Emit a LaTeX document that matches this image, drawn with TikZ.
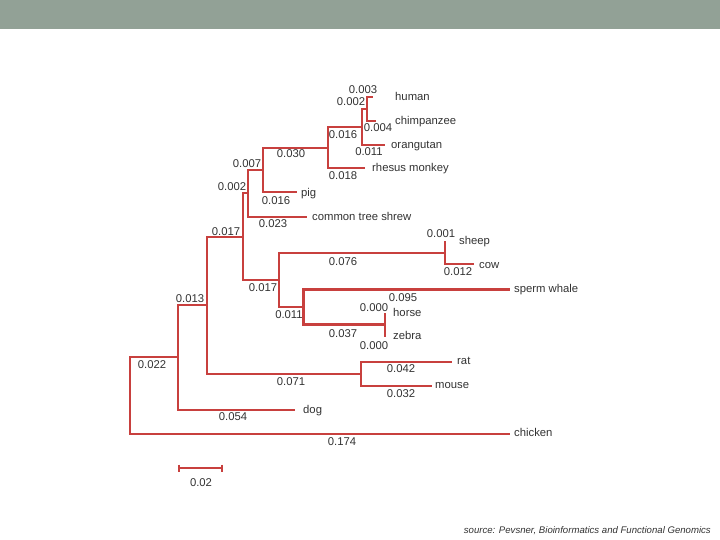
\documentclass[tikz,border=0pt]{standalone}
\usepackage{fontspec}
\setmainfont{Liberation Sans}
\definecolor{branch}{RGB}{200,64,62}
\definecolor{txt}{RGB}{50,50,50}
\definecolor{banner}{RGB}{146,161,150}
\begin{document}
\begin{tikzpicture}[x=1pt,y=-1pt,
  br/.style={draw=branch,line width=1.8pt},
  brthick/.style={draw=branch,line width=3pt},
  leaf/.style={anchor=mid west,inner sep=0pt,yshift=-1pt,text=txt,font=\fontsize{11.3}{13}\selectfont},
  num/.style={anchor=mid,inner sep=0pt,yshift=-1pt,text=txt,font=\fontsize{11.3}{13}\selectfont}]
\useasboundingbox (0,0) rectangle (720,540);
\fill[banner] (0,0) rectangle (720,29);

% leaves (branch ends)
\coordinate (human) at (373,97);
\coordinate (chimp) at (376,121);
\coordinate (orang) at (385,145);
\coordinate (rhesus) at (365,168);
\coordinate (pig) at (297,192);
\coordinate (shrew) at (307,217);
\coordinate (sheep) at (446,242);
\coordinate (cow) at (474,264);
\coordinate (whale) at (510,289);
\coordinate (horse) at (385,313);
\coordinate (zebra) at (385,337);
\coordinate (rat) at (452,362);
\coordinate (mouse) at (432,386);
\coordinate (dog) at (295,410);
\coordinate (chicken) at (510,434);

% internal nodes
\coordinate (nhc) at (367,109);
\coordinate (nhco) at (362,127);
\coordinate (npr) at (328,148);
\coordinate (npp) at (263,170);
\coordinate (nps) at (248,193);
\coordinate (nsc) at (445,253);
\coordinate (nhz) at (385,324);
\coordinate (nwhz) at (303,307);
\coordinate (ncet) at (279,280);
\coordinate (na) at (243,237);
\coordinate (nrm) at (361,374);
\coordinate (nb) at (207,305);
\coordinate (nc) at (178,357);
\coordinate (root) at (130,396);

% branches
\draw[br] (nhc) |- (human);
\draw[br] (nhc) |- (chimp);
\draw[br] (nhco) |- (nhc);
\draw[br] (nhco) |- (orang);
\draw[br] (npr) |- (nhco);
\draw[br] (npr) |- (rhesus);
\draw[br] (npp) |- (npr);
\draw[br] (npp) |- (pig);
\draw[br] (nps) |- (npp);
\draw[br] (nps) |- (shrew);
\draw[br] (na) |- (nps);
\draw[br] (nsc) |- (sheep);
\draw[br] (nsc) |- (cow);
\draw[br] (nhz) -- (horse);
\draw[br] (nhz) -- (zebra);
\draw[brthick] (nwhz) |- (whale);
\draw[brthick] (nwhz) |- (nhz);
\draw[br] (ncet) |- (nsc);
\draw[br] (ncet) |- (nwhz);
\draw[br] (na) |- (ncet);
\draw[br] (nrm) |- (rat);
\draw[br] (nrm) |- (mouse);
\draw[br] (nb) |- (na);
\draw[br] (nb) |- (nrm);
\draw[br] (nc) |- (nb);
\draw[br] (nc) |- (dog);
\draw[br] (root) |- (nc);
\draw[br] (root) |- (chicken);

% leaf names
\node[leaf] (lhuman) at (395,97) {human};
\node[leaf] (lchimp) at (395,121) {chimpanzee};
\node[leaf] (lorang) at (391,145) {orangutan};
\node[leaf] (lrhesus) at (372,168) {rhesus monkey};
\node[leaf] (lpig) at (301,193) {pig};
\node[leaf] (lshrew) at (312,217) {common tree shrew};
\node[leaf] (lsheep) at (459,241) {sheep};
\node[leaf] (lcow) at (479,265) {cow};
\node[leaf] (lwhale) at (514,289) {sperm whale};
\node[leaf] (lhorse) at (393,313) {horse};
\node[leaf] (lzebra) at (393,336) {zebra};
\node[leaf] (lrat) at (457,361) {rat};
\node[leaf] (lmouse) at (435,385) {mouse};
\node[leaf] (ldog) at (303,410) {dog};
\node[leaf] (lchicken) at (514,433) {chicken};

% branch lengths
\node[num] (b1) at (363,90) {0.003};
\node[num] (b2) at (351,102) {0.002};
\node[num] (b3) at (378,128) {0.004};
\node[num] (b4) at (343,135) {0.016};
\node[num] (b5) at (369,152) {0.011};
\node[num] (b6) at (291,154) {0.030};
\node[num] (b7) at (343,176) {0.018};
\node[num] (b8) at (247,164) {0.007};
\node[num] (b9) at (232,187) {0.002};
\node[num] (b10) at (276,201) {0.016};
\node[num] (b11) at (273,224) {0.023};
\node[num] (b12) at (226,232) {0.017};
\node[num] (b13) at (441,234) {0.001};
\node[num] (b14) at (458,272) {0.012};
\node[num] (b15) at (343,262) {0.076};
\node[num] (b16) at (263,288) {0.017};
\node[num] (b17) at (190,299) {0.013};
\node[num] (b18) at (289,315) {0.011};
\node[num] (b19) at (403,298) {0.095};
\node[num] (b20) at (374,308) {0.000};
\node[num] (b21) at (343,334) {0.037};
\node[num] (b22) at (374,346) {0.000};
\node[num] (b23) at (152,365) {0.022};
\node[num] (b24) at (401,369) {0.042};
\node[num] (b25) at (291,382) {0.071};
\node[num] (b26) at (401,394) {0.032};
\node[num] (b27) at (233,417) {0.054};
\node[num] (b28) at (342,442) {0.174};

% scale bar
\coordinate (sb1) at (179,468);
\coordinate (sb2) at (222,468);
\draw[br] (sb1) -- (sb2);
\draw[br] ([yshift=3.5pt]sb1) -- ([yshift=-3.5pt]sb1);
\draw[br] ([yshift=3.5pt]sb2) -- ([yshift=-3.5pt]sb2);
\node[num] (sblabel) at (201,483) {0.02};

% source
\node[anchor=mid east,inner sep=0pt,yshift=-1pt,text=txt,font=\fontsize{9.6}{11}\selectfont\itshape] (src) at (711,530) {source: Pevsner, Bioinformatics and Functional Genomics};
\end{tikzpicture}
\end{document}
